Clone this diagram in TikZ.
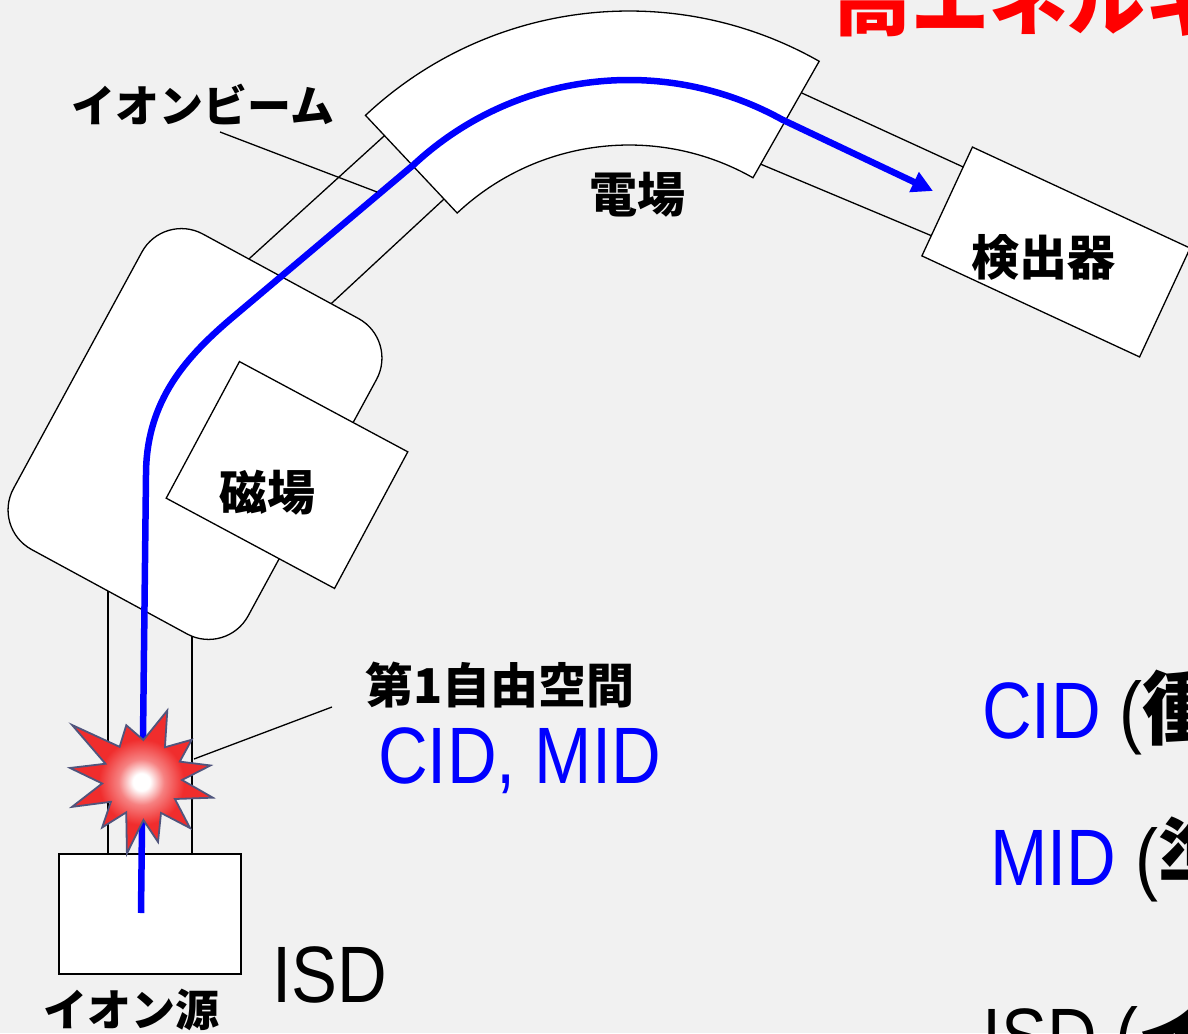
\documentclass[tikz,border=0pt]{standalone}
\usepackage{fontspec}
\usepackage{tikz}
\usetikzlibrary{arrows.meta}
\setmainfont{Liberation Sans}[FakeStretch=0.86]
\newfontfamily\jp{Noto Sans CJK JP}
\definecolor{slide}{RGB}{241,241,241}
\definecolor{beamblue}{RGB}{0,0,255}
\definecolor{flash}{RGB}{240,45,45}
\definecolor{flashedge}{RGB}{80,85,125}
\pgfdeclareradialshading{flashshade}{\pgfpoint{0bp}{0bp}}{color(0bp)=(white); color(3bp)=(white); color(8bp)=(white!40!flash); color(15bp)=(flash); color(50bp)=(flash)}

\begin{document}
\begin{tikzpicture}[x=1pt, y=-1pt,
        part/.style={draw, fill=white, line width=1.3pt, inner sep=0pt},
        tube/.style={line width=1.3pt},
        leader/.style={line width=1.3pt},
        beam/.style={beamblue, line width=6.5pt, -{Triangle[length=21pt, width=21pt]}},
        tag/.style={inner sep=0pt, font=\jp\bfseries\fontsize{48}{48}\selectfont},
        kana/.style={tag, font=\jp\bfseries\fontsize{44}{44}\selectfont},
        latin/.style={inner sep=0pt, anchor=base west, font=\fontsize{80}{80}\selectfont}
    ]
        \useasboundingbox (0,0) rectangle (1188,1033);
        \clip (0,0) rectangle (1188,1033);
        \fill[slide] (0,0) rectangle (1188,1033);

        % flight tubes, drawn first so the units cover their ends
        \draw[tube] (108,560) -- (108,854);
        \draw[tube] (192,560) -- (192,854);
        \draw[tube] (231.5,274.8) -- (394,127);
        \draw[tube] (318.3,315.6) -- (454,189.8);
        \draw[tube] (780,83) -- (985,177);
        \draw[tube] (740,155.5) -- (950,243.5);

        \node[part, rounded corners=45pt, minimum width=267pt, minimum height=359pt, rotate=-28.5] (magnet) at (195,434) {};
        \node[part, minimum width=191pt, minimum height=155pt, rotate=-28.2] (pole) at (287,475) {};
        \draw[part, shift={(629,396)}] (-60.4:385) arc[start angle=-60.4, end angle=-133.2, radius=385]
            -- (-133.2:251) arc[start angle=-133.2, end angle=-60.4, radius=251] -- cycle;
        \node[part, minimum width=240pt, minimum height=120pt, rotate=-24.9] (detector) at (1056,252) {};
        \node[part, minimum width=182pt, minimum height=120pt] (source) at (150,914) {};

        % ion path
        \coordinate (beamstart) at (141,913);
        \coordinate (beamend) at (933,191);
        \draw[beam] (beamstart) -- (146,475) .. controls (146,400) and (187,356) .. (233,317)
            -- ([shift={(629,396)}]-133:316) arc[start angle=-133, end angle=-61, radius=316] -- (beamend);

        % collision flash in the first field-free region
        \draw[shift={(142,780)}, flashedge, line width=1.8pt, shading=flashshade]
            (159:75) -- (145:38) -- (130:62) -- (116:36) -- (101.6:75) -- (88:40) -- (75.5:64) -- (60:38)
            -- (45:68) -- (30:38) -- (14:73) -- (0:40) -- (-12:70) -- (-26:42) -- (-39:64) -- (-55:40)
            -- (-70:74) -- (-88:40) -- (-106:57) -- (-124:40) -- (-141.8:89) -- (-156:40) -- (-170.5:73)
            -- (175:40) -- cycle;

        \coordinate (beamtag) at (220,132);
        \coordinate (beamhit) at (377,192);
        \coordinate (gaptag) at (332,707);
        \coordinate (gaphit) at (194,759);
        \draw[leader] (beamtag) -- (beamhit);
        \draw[leader] (gaptag) -- (gaphit);

        \node[kana] (beamlabel) at (203,105) {イオンビーム};
        \node[tag] (elabel) at (637,195) {電場};
        \node[tag] (detlabel) at (1043,257) {検出器};
        \node[tag] (maglabel) at (267,493) {磁場};
        \node[tag] (gaplabel) at (500,685) {第1自由空間};
        \node[kana] (srclabel) at (131,1010) {イオン源};

        \node[latin, beamblue] (gapmodes) at (378,783) {CID, MID};
        \node[latin] (isd) at (272,1002) {ISD};
        \node[latin] (cid) at (982,738) {\textcolor{beamblue}{CID} (\jp\bfseries 衝};
        \node[latin] (mid) at (990,885) {\textcolor{beamblue}{MID} (\jp\bfseries 準};
        \node[latin] (isdnote) at (982,1064) {ISD (\jp\bfseries イ};
        \node[latin, red, font=\jp\bfseries\fontsize{78}{78}\selectfont] (title) at (833,30) {高エネルギー};
    \end{tikzpicture}
\end{document}
